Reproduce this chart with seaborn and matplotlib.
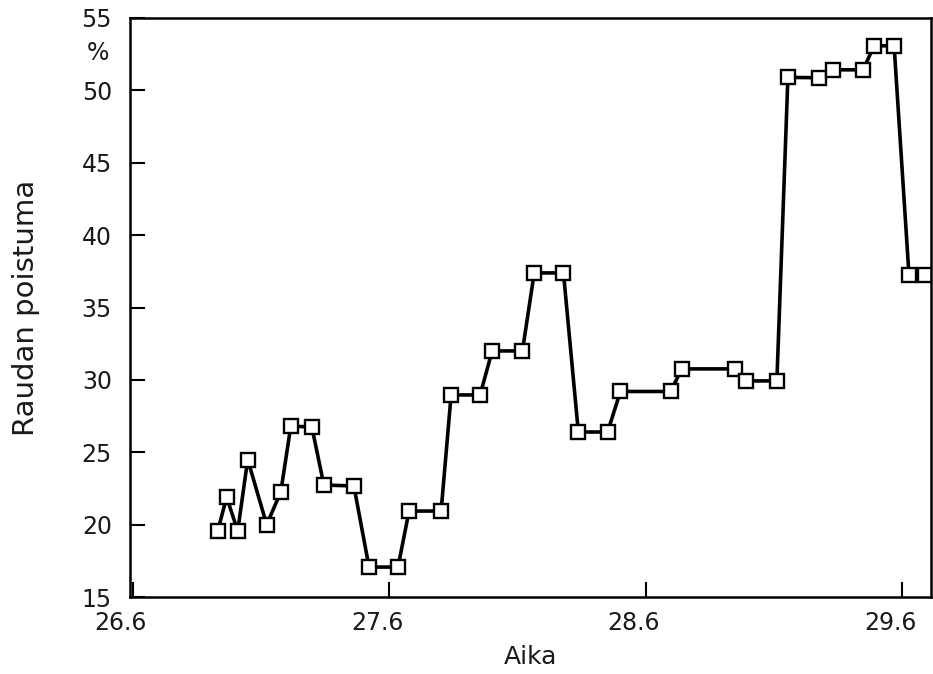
import matplotlib
matplotlib.use("Agg")
import matplotlib.pyplot as plt
import matplotlib.transforms as mtransforms
import seaborn as sns
import pandas as pd

# Sampling times (days) and iron removal (%)
aika = [26.932, 26.967, 27.010, 27.049, 27.123, 27.178, 27.217, 27.299,
        27.346, 27.463, 27.522, 27.635, 27.678, 27.803, 27.842, 27.955,
        28.002, 28.120, 28.166, 28.280, 28.338, 28.452, 28.502, 28.698,
        28.741, 28.948, 28.991, 29.112, 29.155, 29.276, 29.330, 29.448,
        29.491, 29.569, 29.627, 29.690]
poistuma = [19.56, 21.9, 19.56, 24.5, 20.0, 22.26, 26.8, 26.75,
            22.74, 22.67, 17.07, 17.07, 20.94, 20.94, 28.96, 28.96,
            32.0, 32.0, 37.39, 37.39, 26.4, 26.4, 29.2, 29.2,
            30.76, 30.76, 29.93, 29.93, 50.9, 50.87, 51.42, 51.42,
            53.08, 53.08, 37.25, 37.25]

x_ticks = [26.6, 27.6, 28.6, 29.6]
x_ticklabels = ["26.6", "27.6", "28.6", "29.6"]
y_ticks = [15, 20, 25, 30, 35, 40, 45, 50, 55]

df = pd.DataFrame({"Aika": aika, "Raudan poistuma": poistuma})

sns.set_theme(style="ticks")
plt.rcParams["font.family"] = ["DejaVu Sans"]

text_color = "#1a1a1a"

fig = plt.figure(figsize=(9.33, 6.74), dpi=100)
ax = fig.add_axes([0.1393, 0.1142, 0.8586, 0.8591])

sns.lineplot(data=df, x="Aika", y="Raudan poistuma", sort=False, ax=ax,
             color="black", linewidth=2.6, marker="s", markersize=10.5,
             markerfacecolor="white", markeredgecolor="black",
             markeredgewidth=1.7)

ax.set_xlim(26.59, 29.713)
ax.set_ylim(15, 55)
ax.set_xticks(x_ticks)
ax.set_xticklabels(x_ticklabels)
ax.set_yticks(y_ticks)

for side in ["left", "right", "top", "bottom"]:
    ax.spines[side].set_visible(True)
    ax.spines[side].set_linewidth(1.8)
    ax.spines[side].set_color("black")

ax.tick_params(axis="both", direction="in", length=11, width=1.5,
               color="black", labelcolor=text_color, labelsize=17)
ax.tick_params(axis="x", pad=10)
ax.tick_params(axis="y", pad=13)

# shift x tick labels slightly to the left
shift = mtransforms.ScaledTranslation(-12 / 100, 0, fig.dpi_scale_trans)
for lbl in ax.get_xticklabels():
    lbl.set_transform(lbl.get_transform() + shift)

ax.set_xlabel("Aika", fontsize=18, labelpad=7, color=text_color)
ax.set_ylabel("Raudan poistuma", fontsize=21, labelpad=30, color=text_color)

# unit marker above the top tick labels
ax.text(-0.026, 52.6, "%", transform=ax.get_yaxis_transform(),
        ha="right", va="center", fontsize=17, color=text_color)

fig.savefig("out.png", dpi=100)
